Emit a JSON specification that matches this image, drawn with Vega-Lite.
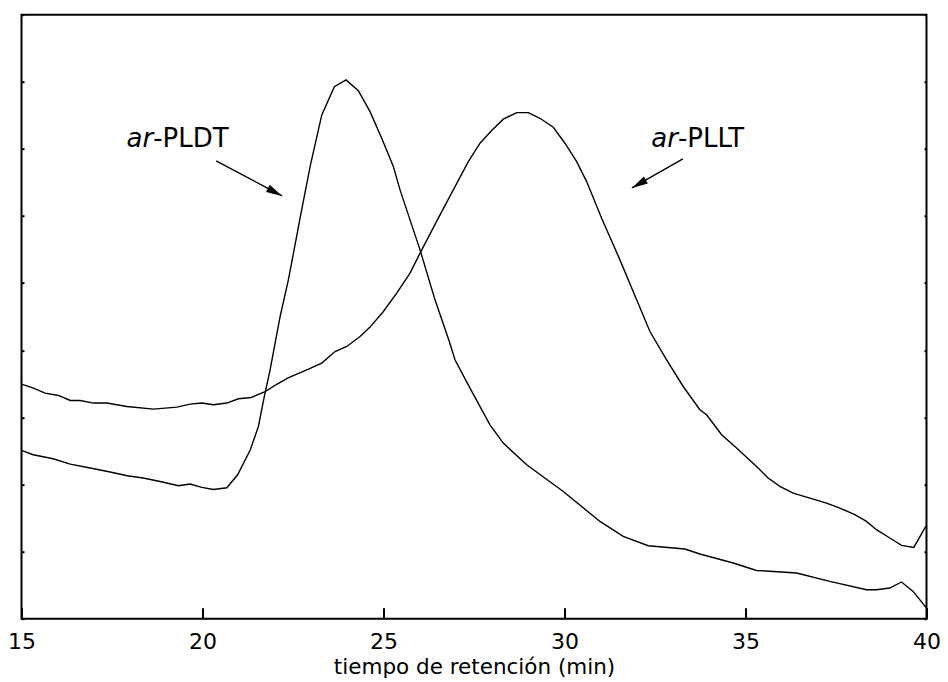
{
  "$schema": "https://vega.github.io/schema/vega-lite/v6.json",
  "width": 905,
  "height": 604,
  "autosize": {"type": "none"},
  "padding": {"left": 21.5, "top": 14.7, "right": 21.5, "bottom": 63},
  "background": "white",
  "config": {
    "view": {"stroke": "black", "strokeWidth": 2},
    "font": "DejaVu Sans",
    "axis": {"grid": false, "domain": false, "tickColor": "black", "labelColor": "black", "titleColor": "black", "labelFont": "DejaVu Sans", "titleFont": "DejaVu Sans", "titleFontWeight": "normal"}
  },
  "datasets": {
    "curves": [
      {"t": 15.000, "s": 2.507, "serie": "ar-PLDT"},
      {"t": 15.323, "s": 2.443, "serie": "ar-PLDT"},
      {"t": 15.875, "s": 2.383, "serie": "ar-PLDT"},
      {"t": 16.345, "s": 2.304, "serie": "ar-PLDT"},
      {"t": 16.897, "s": 2.245, "serie": "ar-PLDT"},
      {"t": 17.449, "s": 2.185, "serie": "ar-PLDT"},
      {"t": 17.919, "s": 2.130, "serie": "ar-PLDT"},
      {"t": 18.360, "s": 2.096, "serie": "ar-PLDT"},
      {"t": 18.830, "s": 2.045, "serie": "ar-PLDT"},
      {"t": 19.335, "s": 1.981, "serie": "ar-PLDT"},
      {"t": 19.658, "s": 2.006, "serie": "ar-PLDT"},
      {"t": 19.981, "s": 1.956, "serie": "ar-PLDT"},
      {"t": 20.302, "s": 1.926, "serie": "ar-PLDT"},
      {"t": 20.672, "s": 1.951, "serie": "ar-PLDT"},
      {"t": 20.970, "s": 2.145, "serie": "ar-PLDT"},
      {"t": 21.315, "s": 2.510, "serie": "ar-PLDT"},
      {"t": 21.544, "s": 2.864, "serie": "ar-PLDT"},
      {"t": 21.688, "s": 3.262, "serie": "ar-PLDT"},
      {"t": 21.867, "s": 3.709, "serie": "ar-PLDT"},
      {"t": 22.143, "s": 4.502, "serie": "ar-PLDT"},
      {"t": 22.372, "s": 5.049, "serie": "ar-PLDT"},
      {"t": 22.530, "s": 5.496, "serie": "ar-PLDT"},
      {"t": 22.695, "s": 5.968, "serie": "ar-PLDT"},
      {"t": 22.972, "s": 6.737, "serie": "ar-PLDT"},
      {"t": 23.295, "s": 7.507, "serie": "ar-PLDT"},
      {"t": 23.643, "s": 7.928, "serie": "ar-PLDT"},
      {"t": 23.966, "s": 8.028, "serie": "ar-PLDT"},
      {"t": 24.305, "s": 7.869, "serie": "ar-PLDT"},
      {"t": 24.628, "s": 7.556, "serie": "ar-PLDT"},
      {"t": 24.951, "s": 7.160, "serie": "ar-PLDT"},
      {"t": 25.272, "s": 6.737, "serie": "ar-PLDT"},
      {"t": 25.457, "s": 6.390, "serie": "ar-PLDT"},
      {"t": 25.733, "s": 5.943, "serie": "ar-PLDT"},
      {"t": 26.009, "s": 5.496, "serie": "ar-PLDT"},
      {"t": 26.423, "s": 4.751, "serie": "ar-PLDT"},
      {"t": 26.818, "s": 4.130, "serie": "ar-PLDT"},
      {"t": 26.975, "s": 3.858, "serie": "ar-PLDT"},
      {"t": 27.389, "s": 3.436, "serie": "ar-PLDT"},
      {"t": 27.942, "s": 2.889, "serie": "ar-PLDT"},
      {"t": 28.309, "s": 2.617, "serie": "ar-PLDT"},
      {"t": 28.955, "s": 2.294, "serie": "ar-PLDT"},
      {"t": 29.966, "s": 1.896, "serie": "ar-PLDT"},
      {"t": 30.979, "s": 1.449, "serie": "ar-PLDT"},
      {"t": 31.622, "s": 1.226, "serie": "ar-PLDT"},
      {"t": 32.313, "s": 1.087, "serie": "ar-PLDT"},
      {"t": 33.326, "s": 1.038, "serie": "ar-PLDT"},
      {"t": 33.740, "s": 0.964, "serie": "ar-PLDT"},
      {"t": 34.660, "s": 0.830, "serie": "ar-PLDT"},
      {"t": 35.306, "s": 0.719, "serie": "ar-PLDT"},
      {"t": 36.411, "s": 0.681, "serie": "ar-PLDT"},
      {"t": 37.330, "s": 0.556, "serie": "ar-PLDT"},
      {"t": 38.343, "s": 0.432, "serie": "ar-PLDT"},
      {"t": 38.619, "s": 0.432, "serie": "ar-PLDT"},
      {"t": 38.986, "s": 0.457, "serie": "ar-PLDT"},
      {"t": 39.310, "s": 0.547, "serie": "ar-PLDT"},
      {"t": 39.630, "s": 0.407, "serie": "ar-PLDT"},
      {"t": 40.000, "s": 0.159, "serie": "ar-PLDT"},
      {"t": 15.000, "s": 3.496, "serie": "ar-PLLT"},
      {"t": 15.331, "s": 3.436, "serie": "ar-PLLT"},
      {"t": 15.654, "s": 3.362, "serie": "ar-PLLT"},
      {"t": 16.022, "s": 3.326, "serie": "ar-PLLT"},
      {"t": 16.345, "s": 3.251, "serie": "ar-PLLT"},
      {"t": 16.621, "s": 3.251, "serie": "ar-PLLT"},
      {"t": 16.988, "s": 3.213, "serie": "ar-PLLT"},
      {"t": 17.358, "s": 3.213, "serie": "ar-PLLT"},
      {"t": 17.910, "s": 3.162, "serie": "ar-PLLT"},
      {"t": 18.645, "s": 3.123, "serie": "ar-PLLT"},
      {"t": 19.291, "s": 3.153, "serie": "ar-PLLT"},
      {"t": 19.658, "s": 3.198, "serie": "ar-PLLT"},
      {"t": 19.981, "s": 3.213, "serie": "ar-PLLT"},
      {"t": 20.302, "s": 3.187, "serie": "ar-PLLT"},
      {"t": 20.672, "s": 3.213, "serie": "ar-PLLT"},
      {"t": 20.992, "s": 3.277, "serie": "ar-PLLT"},
      {"t": 21.342, "s": 3.296, "serie": "ar-PLLT"},
      {"t": 21.729, "s": 3.385, "serie": "ar-PLLT"},
      {"t": 22.052, "s": 3.493, "serie": "ar-PLLT"},
      {"t": 22.364, "s": 3.589, "serie": "ar-PLLT"},
      {"t": 22.881, "s": 3.709, "serie": "ar-PLLT"},
      {"t": 23.295, "s": 3.808, "serie": "ar-PLLT"},
      {"t": 23.662, "s": 3.981, "serie": "ar-PLLT"},
      {"t": 23.985, "s": 4.056, "serie": "ar-PLLT"},
      {"t": 24.352, "s": 4.205, "serie": "ar-PLLT"},
      {"t": 24.628, "s": 4.345, "serie": "ar-PLLT"},
      {"t": 24.996, "s": 4.577, "serie": "ar-PLLT"},
      {"t": 25.366, "s": 4.851, "serie": "ar-PLLT"},
      {"t": 25.733, "s": 5.149, "serie": "ar-PLLT"},
      {"t": 26.056, "s": 5.496, "serie": "ar-PLLT"},
      {"t": 26.514, "s": 5.968, "serie": "ar-PLLT"},
      {"t": 26.928, "s": 6.390, "serie": "ar-PLLT"},
      {"t": 27.343, "s": 6.811, "serie": "ar-PLLT"},
      {"t": 27.666, "s": 7.085, "serie": "ar-PLLT"},
      {"t": 27.989, "s": 7.273, "serie": "ar-PLLT"},
      {"t": 28.309, "s": 7.443, "serie": "ar-PLLT"},
      {"t": 28.679, "s": 7.541, "serie": "ar-PLLT"},
      {"t": 28.999, "s": 7.541, "serie": "ar-PLLT"},
      {"t": 29.322, "s": 7.457, "serie": "ar-PLLT"},
      {"t": 29.690, "s": 7.323, "serie": "ar-PLLT"},
      {"t": 30.013, "s": 7.085, "serie": "ar-PLLT"},
      {"t": 30.336, "s": 6.811, "serie": "ar-PLLT"},
      {"t": 30.612, "s": 6.513, "serie": "ar-PLLT"},
      {"t": 31.026, "s": 5.968, "serie": "ar-PLLT"},
      {"t": 31.531, "s": 5.347, "serie": "ar-PLLT"},
      {"t": 31.993, "s": 4.751, "serie": "ar-PLLT"},
      {"t": 32.360, "s": 4.279, "serie": "ar-PLLT"},
      {"t": 32.821, "s": 3.858, "serie": "ar-PLLT"},
      {"t": 33.279, "s": 3.460, "serie": "ar-PLLT"},
      {"t": 33.740, "s": 3.113, "serie": "ar-PLLT"},
      {"t": 33.925, "s": 3.038, "serie": "ar-PLLT"},
      {"t": 34.340, "s": 2.741, "serie": "ar-PLLT"},
      {"t": 34.707, "s": 2.566, "serie": "ar-PLLT"},
      {"t": 35.306, "s": 2.268, "serie": "ar-PLLT"},
      {"t": 35.626, "s": 2.096, "serie": "ar-PLLT"},
      {"t": 35.949, "s": 1.971, "serie": "ar-PLLT"},
      {"t": 36.317, "s": 1.872, "serie": "ar-PLLT"},
      {"t": 37.239, "s": 1.723, "serie": "ar-PLLT"},
      {"t": 37.606, "s": 1.649, "serie": "ar-PLLT"},
      {"t": 38.020, "s": 1.549, "serie": "ar-PLLT"},
      {"t": 38.343, "s": 1.449, "serie": "ar-PLLT"},
      {"t": 38.619, "s": 1.326, "serie": "ar-PLLT"},
      {"t": 38.986, "s": 1.202, "serie": "ar-PLLT"},
      {"t": 39.310, "s": 1.092, "serie": "ar-PLLT"},
      {"t": 39.649, "s": 1.062, "serie": "ar-PLLT"},
      {"t": 39.980, "s": 1.375, "serie": "ar-PLLT"}
    ],
    "arrows": [
      {"serie": "ar-PLDT", "t0": 20.376, "s0": 6.821, "t1": 22.198, "s1": 6.300},
      {"serie": "ar-PLLT", "t0": 33.271, "s0": 6.851, "t1": 31.863, "s1": 6.419}
    ],
    "labels": [
      {"serie": "ar-PLDT", "prefix": "ar", "rest": "-PLDT", "t": 18.637, "s": 7.030},
      {"serie": "ar-PLLT", "prefix": "ar", "rest": "-PLLT", "t": 33.133, "s": 7.030}
    ]
  },
  "resolve": {"axis": {"y": "independent"}},
  "layer": [
    {
      "data": {"name": "curves"},
      "mark": {"type": "line", "color": "black", "strokeWidth": 1.4, "clip": true},
      "encoding": {
        "x": {
          "field": "t", "type": "quantitative",
          "scale": {"domain": [15, 40], "nice": false, "zero": false},
          "axis": {
            "values": [15, 20, 25, 30, 35, 40],
            "title": "tiempo de retención (min)",
            "offset": -11, "tickSize": 11, "tickWidth": 2,
            "labelFontSize": 22, "labelPadding": 13,
            "labelFlush": false, "labelOverlap": false,
            "titleFontSize": 21.5, "titlePadding": 4
          }
        },
        "y": {
          "field": "s", "type": "quantitative",
          "scale": {"domain": [0, 9], "nice": false, "zero": false},
          "axis": {"orient": "left", "values": [0, 1, 2, 3, 4, 5, 6, 7, 8, 9], "labels": false, "title": null, "offset": -2.5, "tickSize": 2.5, "tickWidth": 2}
        },
        "detail": {"field": "serie"}
      }
    },
    {
      "data": {"name": "curves"},
      "mark": {"type": "line", "opacity": 0},
      "encoding": {
        "x": {"field": "t", "type": "quantitative"},
        "y": {
          "field": "s", "type": "quantitative",
          "axis": {"orient": "right", "values": [0, 1, 2, 3, 4, 5, 6, 7, 8, 9], "labels": false, "title": null, "offset": -2.5, "tickSize": 2.5, "tickWidth": 2}
        },
        "detail": {"field": "serie"}
      }
    },
    {
      "data": {"name": "arrows"},
      "mark": {"type": "rule", "color": "black", "strokeWidth": 1.4},
      "encoding": {
        "x": {"field": "t0", "type": "quantitative"},
        "y": {"field": "s0", "type": "quantitative", "axis": null},
        "x2": {"field": "t1"},
        "y2": {"field": "s1"}
      }
    },
    {
      "data": {"name": "arrows"},
      "transform": [{"filter": "datum.serie === 'ar-PLDT'"}],
      "mark": {"type": "point", "shape": "M0,0L-2,-0.5L-2,0.5Z", "size": 256, "filled": true, "color": "black", "opacity": 1, "angle": 27.9},
      "encoding": {
        "x": {"field": "t1", "type": "quantitative"},
        "y": {"field": "s1", "type": "quantitative", "axis": null}
      }
    },
    {
      "data": {"name": "arrows"},
      "transform": [{"filter": "datum.serie === 'ar-PLLT'"}],
      "mark": {"type": "point", "shape": "M0,0L-2,-0.5L-2,0.5Z", "size": 256, "filled": true, "color": "black", "opacity": 1, "angle": 150.4},
      "encoding": {
        "x": {"field": "t1", "type": "quantitative"},
        "y": {"field": "s1", "type": "quantitative", "axis": null}
      }
    },
    {
      "data": {"name": "labels"},
      "mark": {"type": "text", "align": "right", "baseline": "alphabetic", "fontSize": 26, "fontStyle": "italic", "font": "DejaVu Sans", "color": "black"},
      "encoding": {
        "x": {"field": "t", "type": "quantitative"},
        "y": {"field": "s", "type": "quantitative", "axis": null},
        "text": {"field": "prefix"}
      }
    },
    {
      "data": {"name": "labels"},
      "mark": {"type": "text", "align": "left", "baseline": "alphabetic", "fontSize": 26, "font": "DejaVu Sans", "color": "black"},
      "encoding": {
        "x": {"field": "t", "type": "quantitative"},
        "y": {"field": "s", "type": "quantitative", "axis": null},
        "text": {"field": "rest"}
      }
    }
  ]
}
